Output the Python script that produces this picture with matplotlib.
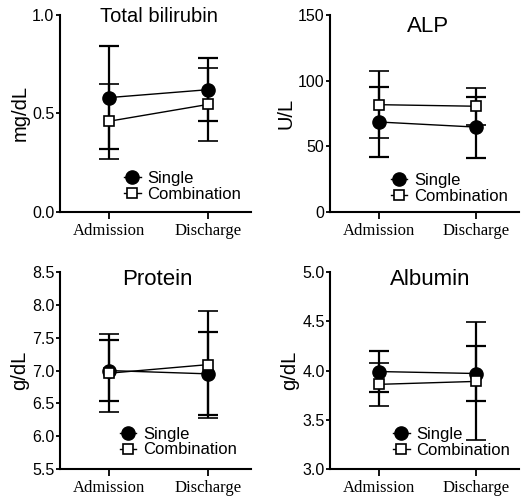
import matplotlib.pyplot as plt
from matplotlib.lines import Line2D

plt.rcParams['font.family'] = ['Liberation Sans', 'DejaVu Sans']

# data: mean and SD at admission / discharge
times = ['Admission', 'Discharge']

titles = ['Total bilirubin', 'ALP', 'Protein', 'Albumin']
units = ['mg/dL', 'U/L', 'g/dL', 'g/dL']

single_mean = [[0.58, 0.62], [68.4, 64.5], [7.00, 6.95], [3.99, 3.97]]
single_sd = [[0.26, 0.16], [26.5, 23.3], [0.47, 0.63], [0.21, 0.28]]
comb_mean = [[0.46, 0.545], [81.6, 80.4], [6.96, 7.09], [3.86, 3.89]]
comb_sd = [[0.19, 0.185], [25.3, 14.0], [0.59, 0.82], [0.215, 0.60]]

yticks = [[0.0, 0.5, 1.0], [0, 50, 100, 150],
          [5.5, 6.0, 6.5, 7.0, 7.5, 8.0, 8.5], [3.0, 3.5, 4.0, 4.5, 5.0]]
ytick_fmt = ['{:.1f}', '{:.0f}', '{:.1f}', '{:.1f}']

# layout (figure fractions)
positions = [[0.1145, 0.573, 0.3645, 0.397],
             [0.630, 0.573, 0.361, 0.397],
             [0.1145, 0.0544, 0.3645, 0.397],
             [0.630, 0.0544, 0.361, 0.397]]
title_pos = [(0.52, 0.962, 14.5), (0.52, 0.912, 16), (0.51, 0.934, 16), (0.53, 0.934, 16)]
legend_pos = [(0.335, 0.13), (0.32, 0.12), (0.313, 0.137), (0.333, 0.135)]

fig = plt.figure(figsize=(5.24, 4.96), dpi=100)
x = [0, 1]

for k in range(4):
    ax = fig.add_axes(positions[k])
    ax.errorbar(x, single_mean[k], yerr=single_sd[k], color='black', lw=1.0,
                marker='o', ms=9.5, mfc='black', mec='black',
                elinewidth=1.6, capsize=7, capthick=1.6, zorder=3)
    ax.errorbar(x, comb_mean[k], yerr=comb_sd[k], color='black', lw=1.0,
                marker='s', ms=7, mfc='white', mec='black', mew=1.2,
                elinewidth=1.6, capsize=7, capthick=1.6, zorder=4)

    ax.set_xlim(-0.5, 1.44)
    ax.set_ylim(yticks[k][0], yticks[k][-1])
    ax.set_yticks(yticks[k])
    ax.set_yticklabels([ytick_fmt[k].format(v) for v in yticks[k]], fontsize=11.5)
    ax.set_xticks(x)
    ax.set_xticklabels(times, fontsize=12, family='Liberation Serif')
    ax.tick_params(axis='y', length=3, width=1.3, pad=1)
    ax.tick_params(axis='x', length=5, width=1.3, pad=3)
    for s in ['top', 'right']:
        ax.spines[s].set_visible(False)
    for s in ['left', 'bottom']:
        ax.spines[s].set_linewidth(1.5)
    ax.set_ylabel(units[k], fontsize=14.5, labelpad=2)

    tx, ty, tfs = title_pos[k]
    ax.text(tx, ty, titles[k], transform=ax.transAxes, ha='center',
            va='baseline', fontsize=tfs)

    handles = [Line2D([], [], color='black', lw=1.0, marker='o', ms=9.5,
                      mfc='black', mec='black'),
               Line2D([], [], color='black', lw=1.0, marker='s', ms=7,
                      mfc='white', mec='black', mew=1.2)]
    ax.legend(handles, ['Single', 'Combination'], loc='center left',
              bbox_to_anchor=legend_pos[k], frameon=False, fontsize=12,
              handlelength=1.0, handletextpad=0.4, labelspacing=0.05,
              borderpad=0, borderaxespad=0)

fig.savefig('out.png', dpi=100)
